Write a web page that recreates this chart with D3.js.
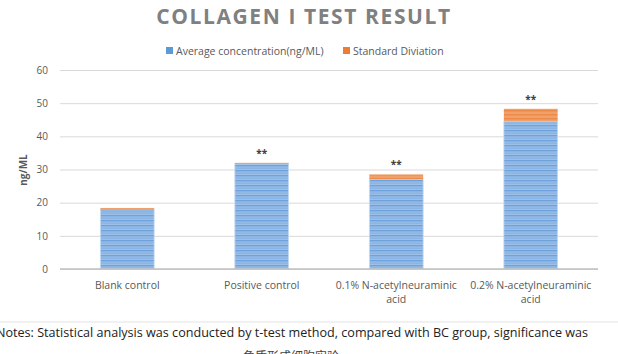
<!DOCTYPE html>
<html>
<head>
<meta charset="utf-8">
<script src="https://cdn.jsdelivr.net/npm/d3@7/dist/d3.min.js"></script>
<style>
	body { margin: 0; background: #fff; }
	svg { display: block; font-family: "Open Sans", "Noto Sans", sans-serif; }
</style>
</head>
<body>
<main></main>
<script>
// Data
const categories = ["Blank control", "Positive control", "0.1% N-acetylneuraminic acid", "0.2% N-acetylneuraminic acid"];
const categoryLines = [["Blank control"], ["Positive control"], ["0.1% N-acetylneuraminic", "acid"], ["0.2% N-acetylneuraminic", "acid"]];
const averages = [17.8, 31.7, 27.1, 44.5];
const deviations = [0.6, 0.3, 1.4, 3.8];
const significance = ["", "**", "**", "**"];
const yTicks = [0, 10, 20, 30, 40, 50, 60];
const seriesNames = ["Average concentration(ng/ML)", "Standard Diviation"];

function drawChart() {
	const dimensions = {
		width: 618,
		height: 354,
		margin: { top: 70, right: 20, bottom: 85, left: 60 },
	};
	dimensions.boundedWidth = dimensions.width - dimensions.margin.left - dimensions.margin.right;
	dimensions.boundedHeight = dimensions.height - dimensions.margin.top - dimensions.margin.bottom;

	const svg = d3.select("main")
		.append("svg")
			.attr("width", dimensions.width)
			.attr("height", dimensions.height);

	// striped fill for the bars
	const defs = svg.append("defs");
	const stripes = defs.append("pattern")
		.attr("id", "stripes")
		.attr("patternUnits", "userSpaceOnUse")
		.attr("width", 8)
		.attr("height", 5);
	stripes.append("rect").attr("width", 8).attr("height", 5).attr("fill", "#9dc0e8");
	stripes.append("rect").attr("y", 0).attr("width", 8).attr("height", 1.4).attr("fill", "#6fa2dc");
	stripes.append("rect").attr("y", 2.6).attr("width", 8).attr("height", 1).attr("fill", "#7eaee2");

	const stripesOrange = defs.append("pattern")
		.attr("id", "stripesOrange")
		.attr("patternUnits", "userSpaceOnUse")
		.attr("width", 8)
		.attr("height", 4);
	stripesOrange.append("rect").attr("width", 8).attr("height", 4).attr("fill", "#f0a06a");
	stripesOrange.append("rect").attr("width", 8).attr("height", 1.5).attr("fill", "#ec8a48");

	// Title and legend
	svg.append("text")
		.attr("x", 304)
		.attr("y", 24)
		.attr("text-anchor", "middle")
		.attr("fill", "#808080")
		.style("font-size", "21px")
		.style("font-weight", "bold")
		.style("letter-spacing", "1.6px")
		.text("COLLAGEN I TEST RESULT");

	const legendColors = ["#5b9bd5", "#ed7d31"];
	const legendX = [166, 343];
	const legend = svg.append("g");
	seriesNames.forEach((name, i) => {
		legend.append("rect")
			.attr("x", legendX[i])
			.attr("y", 47)
			.attr("width", 7)
			.attr("height", 7)
			.attr("fill", legendColors[i]);
		legend.append("text")
			.attr("x", legendX[i] + 10)
			.attr("y", 54.5)
			.attr("fill", "#595959")
			.style("font-size", "10.5px")
			.text(name);
	});

	const graph = svg.append("g")
		.attr("transform", `translate(${dimensions.margin.left}, ${dimensions.margin.top})`);

	// Scales
	const xScale = d3.scaleBand()
		.domain(categories)
		.range([0, dimensions.boundedWidth])
		.paddingInner(0.6)
		.paddingOuter(0.3);

	const yScale = d3.scaleLinear()
		.domain([0, 60])
		.range([dimensions.boundedHeight, 0]);

	// Gridlines
	const yAxisGenerator = d3.axisLeft(yScale)
		.tickValues(yTicks)
		.tickSize(-dimensions.boundedWidth)
		.tickPadding(12);

	const yAxis = graph.append("g").call(yAxisGenerator);
	yAxis.select(".domain").remove();
	yAxis.selectAll(".tick line").attr("stroke", "#d9d9d9");
	yAxis.selectAll(".tick text")
		.attr("fill", "#595959")
		.style("font-size", "10px")
		.style("font-family", "Open Sans");

	// Bars
	graph.selectAll(".avg")
		.data(categories)
		.join("rect")
		.attr("class", "avg")
		.attr("x", d => xScale(d))
		.attr("width", xScale.bandwidth())
		.attr("y", (d, i) => yScale(averages[i]))
		.attr("height", (d, i) => yScale(0) - yScale(averages[i]))
		.attr("fill", "url(#stripes)")
		.attr("stroke", "#c5dbf2")
		.attr("stroke-width", 0.8);

	graph.selectAll(".sd")
		.data(categories)
		.join("rect")
		.attr("class", "sd")
		.attr("x", d => xScale(d))
		.attr("width", xScale.bandwidth())
		.attr("y", (d, i) => yScale(averages[i] + deviations[i]))
		.attr("height", (d, i) => yScale(averages[i]) - yScale(averages[i] + deviations[i]))
		.attr("fill", "url(#stripesOrange)");

	// x baseline
	graph.append("line")
		.attr("x1", 0)
		.attr("x2", dimensions.boundedWidth)
		.attr("y1", yScale(0))
		.attr("y2", yScale(0))
		.attr("stroke", "#bfbfbf")
		.attr("stroke-width", 1.5);

	// significance marks
	graph.selectAll(".sig")
		.data(categories)
		.join("text")
		.attr("class", "sig")
		.attr("x", d => xScale(d) + xScale.bandwidth() / 2)
		.attr("y", (d, i) => yScale(averages[i] + deviations[i]) - 6)
		.attr("text-anchor", "middle")
		.attr("fill", "#404040")
		.style("font-size", "10px")
		.style("font-weight", "bold")
		.text((d, i) => significance[i]);

	// category labels
	const labels = graph.selectAll(".cat")
		.data(categories)
		.join("text")
		.attr("class", "cat")
		.attr("text-anchor", "middle")
		.attr("fill", "#595959")
		.style("font-size", "10.5px")
		.attr("transform", d => `translate(${xScale(d) + xScale.bandwidth() / 2}, ${dimensions.boundedHeight + 20})`);
	labels.selectAll("tspan")
		.data((d, i) => categoryLines[i])
		.join("tspan")
		.attr("x", 0)
		.attr("dy", (d, j) => j === 0 ? 0 : 13.5)
		.text(d => d);

	// y label
	svg.append("text")
		.attr("transform", "translate(27, 170) rotate(-90)")
		.attr("text-anchor", "middle")
		.attr("fill", "#595959")
		.style("font-size", "10px")
		.style("font-weight", "bold")
		.text("ng/ML");

	// notes below the chart
	svg.append("line")
		.attr("x1", 0)
		.attr("x2", dimensions.width)
		.attr("y1", 322)
		.attr("y2", 322)
		.attr("stroke", "#ececec")
		.attr("stroke-width", 1.5);

	svg.append("text")
		.attr("x", -4)
		.attr("y", 337)
		.attr("fill", "#222")
		.style("font-size", "12.6px")
		.text("Notes: Statistical analysis was conducted by t-test method, compared with BC group, significance was");

	svg.append("text")
		.attr("x", 291)
		.attr("y", 361)
		.attr("text-anchor", "middle")
		.attr("fill", "#444")
		.style("font-size", "12px")
		.style("font-family", "Noto Sans CJK SC")
		.text("角质形成细胞实验");
}

drawChart();
</script>
</body>
</html>
